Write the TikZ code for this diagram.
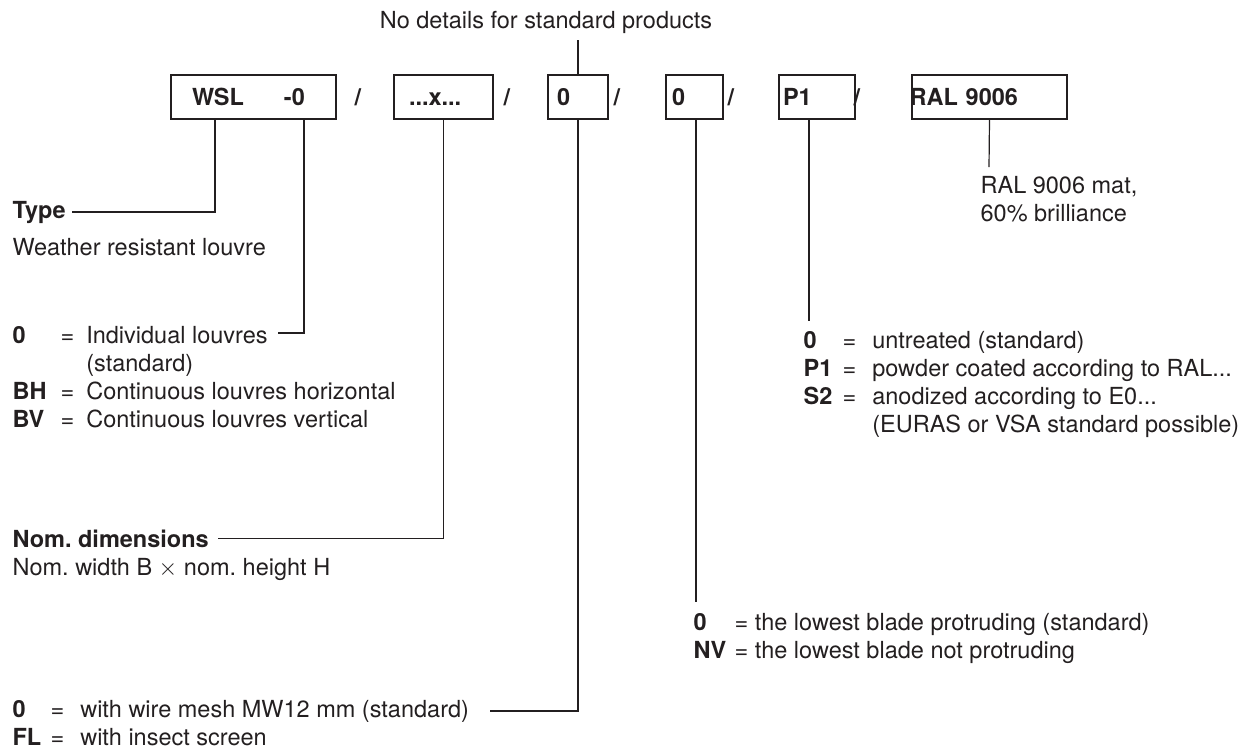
\documentclass[tikz,border=0pt]{standalone}
\usepackage{fontspec}
\setmainfont{TeX Gyre Heros}
\usepackage{xcolor}
\usetikzlibrary{calc}
\definecolor{ink}{RGB}{35,31,32}

\begin{document}
\frenchspacing
\begin{tikzpicture}[x=0.5pt, y=-0.5pt, line width=0.6pt, color=ink,
    font=\fontsize{11.75}{14}\selectfont,
    codebox/.style={draw, anchor=north west, outer sep=0pt, minimum height=22pt,
        inner ysep=0pt, text height=8.5pt, text depth=0pt, align=left,
        font=\fontsize{11.75}{14}\selectfont\bfseries},
    slash/.style={inner sep=0pt, font=\fontsize{11.75}{14}\selectfont\bfseries},
    lbl/.style={inner sep=0pt, anchor=base west}]
        \useasboundingbox (0,0) rectangle (1251,751);

        % The order code
        \node[codebox, inner xsep=10.5pt, text width=61.5pt] (wsl) at (171,75) {WSL\hspace{20pt}-0};
        \node[codebox, inner xsep=7.5pt, text width=34.5pt] (dims) at (394,75) {...x...};
        \node[codebox, inner xsep=4.5pt, text width=21pt] (mesh) at (548,75) {0};
        \node[codebox, inner xsep=3pt, text width=22.5pt] (blade) at (666,75) {0};
        \node[codebox, inner xsep=2pt, text width=34pt] (finish) at (779,75) {P1};
        \node[codebox, inner xsep=0pt, text width=77.5pt] (ral) at (912,75) {\hspace{-1.2pt}RAL 9006};
        \foreach \x/\n in {358/1, 507/2, 617/3, 731/4, 857/5}
            \node[slash] (sl\n) at (\x,97) {/};

        \node[anchor=base] (nodetail) at (546,28) {No details for standard products};

        % Explanations
        \node[lbl] (type) at (12,218) {\bfseries Type};
        \node[lbl] (typetxt) at (12,255) {Weather resistant louvre};
        \node[lbl] (louvres) at (12,343) {\begin{tabular}[t]{@{}p{24pt}@{}c@{\hspace{6pt}}l@{}}
            \textbf{0} & = & Individual louvres\\
             & & (standard)\\
            \textbf{BH} & = & Continuous louvres horizontal\\
            \textbf{BV} & = & Continuous louvres vertical
        \end{tabular}};
        \node[lbl] (nomdim) at (12,547) {\bfseries Nom. dimensions};
        \node[lbl] (nomtxt) at (12,575) {Nom. width B $\times$ nom. height H};
        \node[lbl] (meshtxt) at (12,717) {\begin{tabular}[t]{@{}p{19pt}@{}c@{\hspace{8pt}}l@{}}
            \textbf{0} & = & with wire mesh MW12 mm (standard)\\
            \textbf{FL} & = & with insect screen
        \end{tabular}};
        \node[lbl] (bladetxt) at (693,630) {\begin{tabular}[t]{@{}p{20.5pt}@{}l@{}}
            \textbf{0} & = the lowest blade protruding (standard)\\
            \textbf{NV} & = the lowest blade not protruding
        \end{tabular}};
        \node[lbl] (finishtxt) at (803,348) {\begin{tabular}[t]{@{}p{19.5pt}@{}c@{\hspace{8pt}}l@{}}
            \textbf{0} & = & untreated (standard)\\
            \textbf{P1} & = & powder coated according to RAL...\\
            \textbf{S2} & = & anodized according to E0...\\
             & & (EURAS or VSA standard possible)
        \end{tabular}};
        \node[lbl] (raltxt) at (980,193) {RAL 9006 mat,};
        \node[lbl] (raltxtb) at (980,221) {60\% brilliance};

        % Free ends of the leaders
        \coordinate (louvreend) at (278,333);
        \coordinate (meshend) at (490,711);
        \coordinate (bladeend) at (696,602);
        \coordinate (finishend) at (809,321);
        \coordinate (ralend) at (989,167);

        % Leaders
        \draw (nodetail.south -| mesh.north) -- (mesh.north);
        \draw ([xshift=22pt]wsl.south west) |- ([xshift=3pt]type.east);
        \draw ([xshift=66.5pt]wsl.south west) |- (louvreend);
        \draw (dims.south) |- ([xshift=4.5pt]nomdim.east);
        \draw (mesh.south) |- (meshend);
        \draw (blade.south -| bladeend) -- (bladeend);
        \draw (finish.south -| finishend) -- (finishend);
        \draw (ral.south) -- (ralend);
\end{tikzpicture}
\end{document}
